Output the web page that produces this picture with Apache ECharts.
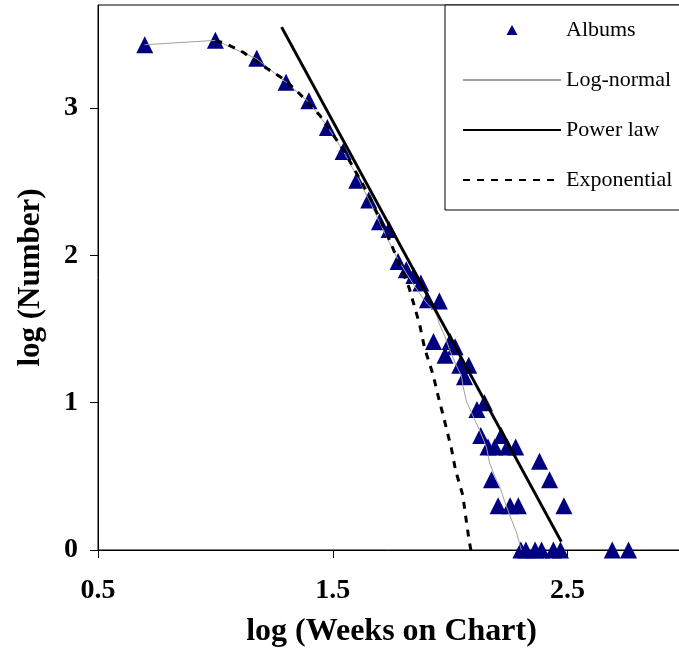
<!DOCTYPE html>
<html><head><meta charset="utf-8">
<script src="https://cdn.jsdelivr.net/npm/echarts@6/dist/echarts.min.js"></script>
<style>html,body{margin:0;padding:0;background:#fff}#c{width:679px;height:650px}</style>
</head><body><div id="c"></div>
<script>
// Albums: log(weeks on chart) vs log(number of albums)
const albumLogWeeks = [0.699,1.000,1.176,1.301,1.398,1.477,1.544,1.602,1.653,1.699,1.740,1.778,1.813,1.845,1.875,1.903,1.929,1.954,1.978,2.000,2.021,2.041,2.061,2.079,2.114,2.130,2.146,2.161,2.176,2.190,2.204,2.2175,2.243,2.2553,2.2788,2.290,2.301,2.3222,2.3617,2.3802,2.3892,2.4232,2.4393,2.4698,2.4843,2.6902,2.7597];
const albumLogNumber = [3.43,3.46,3.338,3.175,3.05,2.869,2.705,2.51,2.376,2.228,2.176,1.959,1.903,1.863,1.813,1.699,1.415,1.690,1.322,1.415,1.380,1.255,1.176,1.255,0.954,0.778,1.0,0.699,0.477,0.699,0.301,0.778,0.699,0.301,0.699,0.301,0,0,0,0.602,0,0.477,0,0,0.301,0,0];
// Log-normal fit
const lognormalX = [0.699,1.0,1.176,1.301,1.398,1.477,1.544,1.602,1.653,1.699,1.74,1.778,1.813,1.845,1.875,1.903,1.929,1.941,1.955,1.977,2.0,2.021,2.048,2.055,2.069,2.097,2.123,2.154,2.168,2.19,2.211,2.232,2.253,2.282,2.303];
const lognormalY = [3.43,3.46,3.335,3.175,3.04,2.875,2.71,2.54,2.38,2.225,2.09,1.97,1.88,1.80,1.73,1.67,1.63,1.60,1.53,1.45,1.35,1.27,1.18,1.11,1.01,0.91,0.82,0.70,0.59,0.50,0.43,0.33,0.24,0.12,0];
// Power law fit
const powerX = [1.282,2.473];
const powerY = [3.55,0.057];
// Exponential fit
const expX = [1.0,1.048,1.118,1.218,1.279,1.345,1.445,1.544,1.653,1.743,1.825,1.870,1.891,1.927,1.948,1.977,2.005,2.023,2.054,2.064,2.08,2.095];
const expY = [3.46,3.435,3.379,3.27,3.21,3.12,2.95,2.72,2.41,2.10,1.78,1.53,1.37,1.19,1.05,0.87,0.69,0.54,0.37,0.25,0.07,-0.06];
const xTicks = [0.5,1.5,2.5];
const yTicks = [0,1,2,3];

const zip = (a,b)=>a.map((v,i)=>[v,b[i]]);
const font = "'Liberation Serif','Times New Roman',Times,serif";
const chart = echarts.init(document.getElementById('c'), null, {renderer:'canvas'});
chart.setOption({
  animation:false,
  backgroundColor:'#fff',
  grid:{left:98, top:5, right:-6, bottom:100, show:true, borderColor:'#000', borderWidth:1, containLabel:false, outerBoundsMode:'none'},
  legend:{
    orient:'vertical', left:445, top:5, padding:[14,40,19,17],
    itemWidth:98, itemHeight:10, itemGap:28,
    borderColor:'#000', borderWidth:1, backgroundColor:'#fff',
    selectedMode:false, symbolKeepAspect:true,
    textStyle:{fontFamily:font, fontSize:22, color:'#000', lineHeight:22},
    data:[
      {name:'Albums', icon:'path://M5,0 L10,9 L0,9 Z', itemStyle:{color:'#000080', opacity:1}},
      {name:'Log-normal', itemStyle:{opacity:0}},
      {name:'Power law', itemStyle:{opacity:0}},
      {name:'Exponential', itemStyle:{opacity:0}}
    ]
  },
  xAxis:{
    type:'value', min:0.5, max:3.0,
    name:'log (Weeks on Chart)', nameLocation:'middle', nameGap:66,
    nameTextStyle:{fontFamily:font, fontWeight:'bold', fontSize:32, color:'#000'},
    axisLine:{show:true, onZero:false, lineStyle:{color:'#000', width:1}},
    axisTick:{show:true, length:8, customValues:xTicks, lineStyle:{color:'#000', width:1}},
    axisLabel:{customValues:xTicks, margin:27, fontFamily:font, fontWeight:'bold', fontSize:28, color:'#000', formatter:v=>v.toFixed(1)},
    splitLine:{show:false}
  },
  yAxis:{
    type:'value', min:0, max:3.7,
    name:'log (Number)', nameLocation:'middle', nameGap:52, nameRotate:90,
    nameTextStyle:{fontFamily:font, fontWeight:'bold', fontSize:31, color:'#000'},
    axisLine:{show:true, onZero:false, lineStyle:{color:'#000', width:1}},
    axisTick:{show:true, length:8, customValues:yTicks, lineStyle:{color:'#000', width:1}},
    axisLabel:{customValues:yTicks, margin:20, fontFamily:font, fontWeight:'bold', fontSize:28, color:'#000', formatter:v=>String(v)},
    splitLine:{show:false}
  },
  series:[
    {name:'Albums', type:'scatter', data:zip(albumLogWeeks, albumLogNumber), symbol:'triangle', symbolSize:17, itemStyle:{color:'#000080', opacity:1}, z:2},
    {name:'Log-normal', type:'line', data:zip(lognormalX, lognormalY), symbol:'none', lineStyle:{color:'#a0a0a0', width:1}, itemStyle:{color:'#a0a0a0'}, z:3},
    {name:'Power law', type:'line', data:zip(powerX, powerY), symbol:'none', lineStyle:{color:'#000', width:3}, itemStyle:{color:'#000'}, z:4},
    {name:'Exponential', type:'line', data:zip(expX, expY), symbol:'none', lineStyle:{color:'#000', width:3, type:[7,7]}, itemStyle:{color:'#000'}, z:4}
  ]
});
</script>
</body></html>
